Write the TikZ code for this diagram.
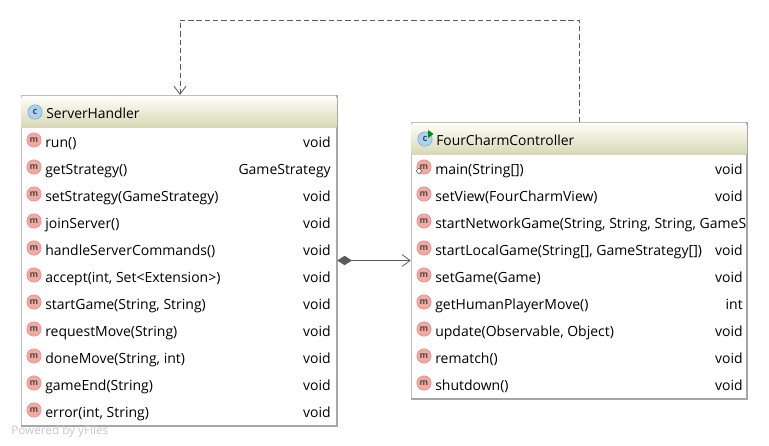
\documentclass[tikz,border=0pt]{standalone}
\usepackage{fontspec}
\usepackage{tikz}
\usetikzlibrary{arrows.meta}
\setmainfont{Open Sans}
\definecolor{boxline}{HTML}{BEBEBE}
\definecolor{shadowline}{HTML}{A6A6A6}
\definecolor{headtop}{HTML}{FDFDF6}
\definecolor{headbot}{HTML}{D8D8B6}
\definecolor{mfill}{HTML}{F4A9A0}
\definecolor{mline}{HTML}{D98A82}
\definecolor{cfill}{HTML}{A9D3F2}
\definecolor{cline}{HTML}{6FA8D6}
\definecolor{linkgray}{HTML}{5A5A5A}
\begin{document}
\begin{tikzpicture}[x=0.75pt,y=-0.75pt]
	\tikzstyle{classbox}=[rectangle,draw=boxline,fill=white,inner sep=0pt]
	\tikzstyle{header}=[rectangle,top color=headtop,bottom color=headbot,inner sep=0pt,minimum height=22.5pt]
	\tikzstyle{title}=[anchor=base west,inner sep=0pt,font=\fontsize{10.4}{12}\selectfont,text=black]
	\tikzstyle{mname}=[anchor=base west,inner sep=0pt,font=\fontsize{10.5}{12}\selectfont,text=black]
	\tikzstyle{mtype}=[anchor=base east,inner sep=0pt,font=\fontsize{10.5}{12}\selectfont,text=black]
	\tikzstyle{micon}=[circle,draw=mline,fill=mfill,inner sep=0pt,minimum size=10.8pt,font=\fontsize{6.5}{6}\bfseries\selectfont,text=black!70]
	\tikzstyle{cicon}=[circle,draw=cline,fill=cfill,inner sep=0pt,minimum size=10.8pt,font=\fontsize{7}{6}\bfseries\selectfont,text=black!70]
	\useasboundingbox (0,0) rectangle (769,446);
	% boxes
	\node[classbox,minimum width=237pt,minimum height=248pt](sh) at (179,260.5) {};
	\node[classbox,minimum width=252pt,minimum height=207pt](fc) at (579,260.5) {};
	\draw[shadowline,line width=1.2pt] (sh.north east) -- (sh.south east) -- (sh.south west);
	\draw[shadowline,line width=1.2pt] (fc.north east) -- (fc.south east) -- (fc.south west);
	\node[header,minimum width=236pt](shhead) at (179,112) {};
	\node[header,minimum width=251pt](fchead) at (579,139) {};
	% left class
	\node[cicon](shicon) at (35,112) {c};
	\node[title](shtitle) at (46,118) {ServerHandler};
	\node[micon](a1) at (34,140) {m};
	\node[mname](a1n) at (45,147) {run()};
	\node[mtype](a1t) at (331,147) {void};
	\node[micon](a2) at (34,167) {m};
	\node[mname](a2n) at (45,174) {getStrategy()};
	\node[mtype](a2t) at (331,174) {GameStrategy};
	\node[micon](a3) at (34,194) {m};
	\node[mname](a3n) at (45,201) {setStrategy(GameStrategy)};
	\node[mtype](a3t) at (331,201) {void};
	\node[micon](a4) at (34,221) {m};
	\node[mname](a4n) at (45,228) {joinServer()};
	\node[mtype](a4t) at (331,228) {void};
	\node[micon](a5) at (34,248) {m};
	\node[mname](a5n) at (45,255) {handleServerCommands()};
	\node[mtype](a5t) at (331,255) {void};
	\node[micon](a6) at (34,275) {m};
	\node[mname](a6n) at (45,282) {accept(int, Set<Extension>)};
	\node[mtype](a6t) at (331,282) {void};
	\node[micon](a7) at (34,302) {m};
	\node[mname](a7n) at (45,309) {startGame(String, String)};
	\node[mtype](a7t) at (331,309) {void};
	\node[micon](a8) at (34,329) {m};
	\node[mname](a8n) at (45,336) {requestMove(String)};
	\node[mtype](a8t) at (331,336) {void};
	\node[micon](a9) at (34,356) {m};
	\node[mname](a9n) at (45,363) {doneMove(String, int)};
	\node[mtype](a9t) at (331,363) {void};
	\node[micon](a10) at (34,383) {m};
	\node[mname](a10n) at (45,390) {gameEnd(String)};
	\node[mtype](a10t) at (331,390) {void};
	\node[micon](a11) at (34,410) {m};
	\node[mname](a11n) at (45,417) {error(int, String)};
	\node[mtype](a11t) at (331,417) {void};
	% right class
	\node[cicon](fcicon) at (425,139) {c};
	\fill[green!55!black] (428,130) -- (433.5,134) -- (428,138) -- cycle;
	\node[title](fctitle) at (436,145) {FourCharmController};
	\node[micon](b1) at (424,167) {m};
	\draw[linkgray,fill=white,line width=0.5pt] (419,168) -- (422,171) -- (419,174) -- (416,171) -- cycle;
	\node[mname](b1n) at (435,174) {main(String[])};
	\node[mtype](b1t) at (743,174) {void};
	\node[micon](b2) at (424,194) {m};
	\node[mname](b2n) at (435,201) {setView(FourCharmView)};
	\node[mtype](b2t) at (743,201) {void};
	\node[micon](b3) at (424,221) {m};
	\begin{scope}
		\clip (412,210) rectangle (746,236);
		\node[mname](b3n) at (435,228) {startNetworkGame(String, String, String, GameS};
	\end{scope}
	\node[micon](b4) at (424,248) {m};
	\node[mname](b4n) at (435,255) {startLocalGame(String[], GameStrategy[])};
	\node[mtype](b4t) at (743,255) {void};
	\node[micon](b5) at (424,275) {m};
	\node[mname](b5n) at (435,282) {setGame(Game)};
	\node[mtype](b5t) at (743,282) {void};
	\node[micon](b6) at (424,302) {m};
	\node[mname](b6n) at (435,309) {getHumanPlayerMove()};
	\node[mtype](b6t) at (743,309) {int};
	\node[micon](b7) at (424,329) {m};
	\node[mname](b7n) at (435,336) {update(Observable, Object)};
	\node[mtype](b7t) at (743,336) {void};
	\node[micon](b8) at (424,356) {m};
	\node[mname](b8n) at (435,363) {rematch()};
	\node[mtype](b8t) at (743,363) {void};
	\node[micon](b9) at (424,383) {m};
	\node[mname](b9n) at (435,390) {shutdown()};
	\node[mtype](b9t) at (743,390) {void};
	% connectors
	\coordinate (c1) at (579,20);
	\coordinate (c2) at (180,20);
	\draw[linkgray,line width=0.6pt,{Diamond[length=11pt,width=7pt,fill=linkgray]}-{Straight Barb[length=6pt,width=9pt]}] (sh) -- (fc);
	\draw[linkgray,line width=0.6pt,dash pattern=on 4pt off 2.2pt,-{Straight Barb[length=6pt,width=9pt]}] (fc.north -| c1) -- (c1) -- (c2) -- (sh.north -| c2);
	\node[anchor=base west,inner sep=0pt,font=\fontsize{8.8}{10}\selectfont,text=black!22](yfiles) at (11,434) {Powered by yFiles};
\end{tikzpicture}
\end{document}
